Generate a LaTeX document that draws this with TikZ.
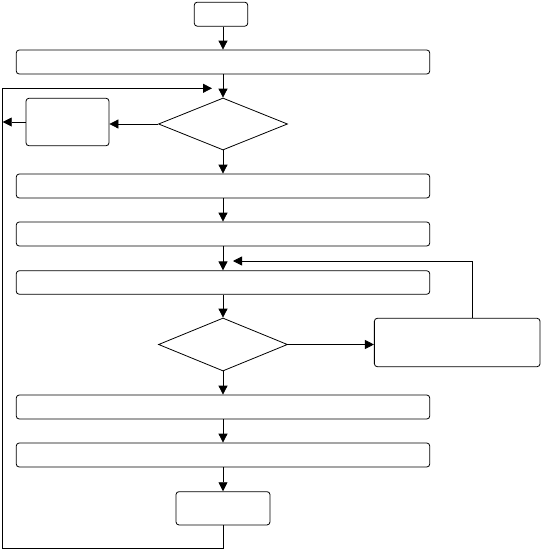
\documentclass[tikz,border=0pt]{standalone}
\usetikzlibrary{shapes.geometric,arrows.meta}
\begin{document}
\begin{tikzpicture}[x=1pt,y=-1pt,line width=0.8pt,
  box/.style={draw,rounded corners=3pt,inner sep=0pt,minimum width=#1},
  dia/.style={draw,diamond,inner sep=0pt,minimum width=129pt,minimum height=52pt},
  arr/.style={-{Triangle[length=9pt,width=9pt]}}]
\useasboundingbox (0,0) rectangle (541,549);
\node[box=53.5pt,minimum height=24pt] (T) at (221,14.2) {};
\node[box=413.5pt,minimum height=24pt] (B1) at (223,62) {};
\node[dia] (D1) at (223,124) {};
\node[box=83pt,minimum height=47.5pt] (L) at (67.5,122) {};
\node[box=413.5pt,minimum height=24pt] (B2) at (223,186) {};
\node[box=413.5pt,minimum height=24pt] (B3) at (223,234) {};
\node[box=413.5pt,minimum height=23.5pt] (B4) at (223,282.5) {};
\node[dia,minimum height=53pt] (D2) at (223,344.5) {};
\node[box=165.7pt,minimum height=48.4pt] (R) at (457.2,342.5) {};
\node[box=413.5pt,minimum height=24pt] (B5) at (223,407) {};
\node[box=413.5pt,minimum height=24pt] (B6) at (223,455) {};
\node[box=94pt,minimum height=33.3pt] (E) at (223,508.3) {};
\coordinate (bl) at (2.7,548.3);
\coordinate (tl) at (2.7,88.3);
\coordinate (t1) at (212,88.3);
\coordinate (rf) at (472.7,261);
\coordinate (t2) at (233,261);
\draw[arr] (T.south -| B1) -- (B1.north);
\draw[arr] (B1.south) -- (D1.north);
\draw[arr] (D1.west) -- (D1.west -| L.east);
\draw[arr] (L.west) -- (L.west -| bl);
\draw[arr] (D1.south) -- (B2.north);
\draw[arr] (B2.south) -- (B3.north);
\draw[arr] (B3.south) -- (B4.north);
\draw[arr] (B4.south) -- (D2.north);
\draw[arr] (D2.east) -- (D2.east -| R.west);
\draw[arr] (R.north -| rf) -- (rf) -- (t2);
\draw[arr] (D2.south) -- (B5.north);
\draw[arr] (B5.south) -- (B6.north);
\draw[arr] (B6.south) -- (E.north);
\draw[arr] (E.south) |- (bl) -- (tl) -- (t1);
\end{tikzpicture}
\end{document}
